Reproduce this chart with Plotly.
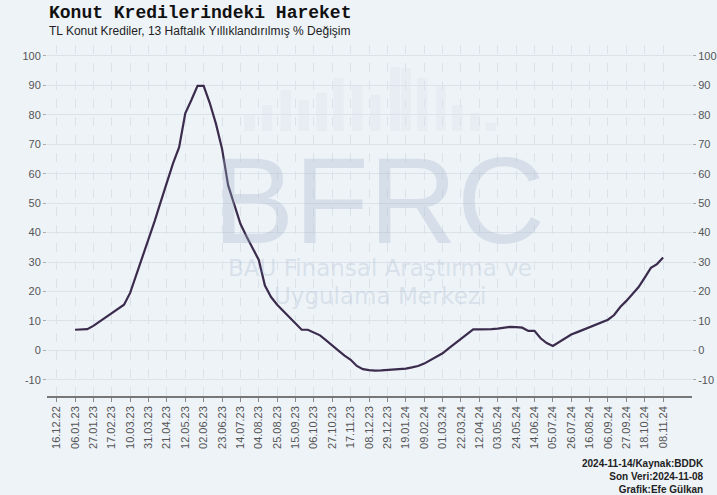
import pandas as pd
import plotly.graph_objects as go

# Weekly dates (x axis spans 16.12.22 .. 08.11.24, data starts 06.01.23)
start_date = "2023-01-06"
values = [
    7.0, 7.0, 7.2, 8.3, 9.8, 11.0, 12.8, 14.0, 15.5, 19.5,
    25.5, 31.4, 37.3, 43.9, 50.5, 57.0, 63.5, 69.0, 80.5, 85.0,
    89.8, 89.8, 84.0, 77.0, 68.5, 56.0, 49.5, 43.0, 38.7, 34.8,
    30.7, 22.0, 18.1, 15.5, 13.4, 11.3, 9.4, 7.0, 7.0, 6.1,
    5.1, 3.4, 1.5, -0.1, -1.8, -3.2, -5.3, -6.4, -6.7, -6.9,
    -6.8, -6.7, -6.6, -6.5, -6.2, -5.8, -5.3, -4.5, -3.4, -2.3,
    -1.0, 0.7, 2.3, 4.0, 5.6, 7.1, 7.1, 7.1, 7.2, 7.4,
    7.7, 8.0, 7.9, 7.7, 6.6, 6.6, 4.1, 2.5, 1.5, 2.8,
    4.1, 5.4, 6.2, 7.0, 7.8, 8.6, 9.4, 10.4, 12.0, 14.7,
    16.8, 19.3, 21.5, 24.7, 28.0, 29.3, 31.5,
]
dates = pd.date_range(start_date, periods=len(values), freq="7D")

tick_labels = [
    "16.12.22", "06.01.23", "27.01.23", "17.02.23", "10.03.23", "31.03.23",
    "21.04.23", "12.05.23", "02.06.23", "23.06.23", "14.07.23", "04.08.23",
    "25.08.23", "15.09.23", "06.10.23", "27.10.23", "17.11.23", "08.12.23",
    "29.12.23", "19.01.24", "09.02.24", "01.03.24", "22.03.24", "12.04.24",
    "03.05.24", "24.05.24", "14.06.24", "05.07.24", "26.07.24", "16.08.24",
    "06.09.24", "27.09.24", "18.10.24", "08.11.24",
]
tick_vals = [pd.to_datetime(t, format="%d.%m.%y") for t in tick_labels]
y_ticks = list(range(-10, 101, 10))

# Faint watermark logo bars (paper-fraction left, right, top)
logo_bars = [
    (0.306, 0.322, 0.801), (0.333, 0.349, 0.829), (0.362, 0.378, 0.872),
    (0.390, 0.406, 0.843), (0.418, 0.434, 0.863), (0.444, 0.460, 0.906),
    (0.473, 0.489, 0.886), (0.501, 0.517, 0.858), (0.532, 0.547, 0.937),
    (0.549, 0.564, 0.934), (0.574, 0.590, 0.906), (0.603, 0.618, 0.886),
    (0.628, 0.644, 0.829), (0.656, 0.671, 0.806), (0.680, 0.696, 0.778),
]

BG = "#eef3f8"
LINE = "#3b2b4c"
TICKC = "#555555"
GRID = "#dbe2ea"

fig = go.Figure()
fig.add_trace(go.Scatter(x=dates, y=values, mode="lines",
                         line=dict(color=LINE, width=2.2), showlegend=False))
fig.add_trace(go.Scatter(x=dates, y=values, mode="lines", yaxis="y2",
                         line=dict(color="rgba(0,0,0,0)", width=0),
                         showlegend=False, hoverinfo="skip"))

yrange = [-15.5, 103.7]
xrange = [pd.Timestamp("2022-12-05"), pd.Timestamp("2024-12-11")]

axis_font = dict(family="Liberation Sans, Arial", size=11, color=TICKC)

fig.update_layout(
    width=717, height=495,
    margin=dict(l=47, r=25, t=45, b=99, autoexpand=False),
    paper_bgcolor=BG, plot_bgcolor=BG,
    xaxis=dict(
        range=xrange, tickmode="array", tickvals=tick_vals, ticktext=tick_labels,
        tickangle=-90, tickfont=axis_font, showgrid=True, gridcolor=GRID,
        griddash="dash", gridwidth=1, ticks="outside", ticklen=4,
        tickcolor="#888888", showline=True, linecolor="#777777", linewidth=1.5,
        zeroline=False, automargin=False,
    ),
    yaxis=dict(
        range=yrange, tickmode="array", tickvals=y_ticks,
        ticktext=[f"{v}" for v in y_ticks], tickfont=axis_font,
        showgrid=True, gridcolor=GRID, gridwidth=1, ticks="outside",
        ticklen=3, tickcolor="#aaaaaa", zeroline=False, showline=False,
        automargin=False,
    ),
    yaxis2=dict(
        range=yrange, tickmode="array", tickvals=y_ticks,
        ticktext=[f"{v}" for v in y_ticks], tickfont=axis_font,
        overlaying="y", side="right", showgrid=False, ticks="outside",
        ticklen=3, tickcolor="#aaaaaa", zeroline=False, showline=False,
        automargin=False,
    ),
)

for x0, x1, top in logo_bars:
    fig.add_shape(type="rect", xref="paper", yref="paper", x0=x0, x1=x1,
                  y0=0.755, y1=top, layer="below", line=dict(width=0),
                  fillcolor="rgba(200,206,214,0.16)")

# Watermark
wm = "rgba(160,180,200,0.30)"
fig.add_annotation(text="BFRC", xref="paper", yref="paper", x=0.515, y=0.555,
                   yanchor="middle", valign="middle", height=100, showarrow=False,
                   font=dict(family="Liberation Sans, Arial", size=122, color=wm))
fig.add_annotation(text="BAU Finansal Araştırma ve", xref="paper", yref="paper",
                   x=0.517, y=0.365, yanchor="middle", showarrow=False,
                   font=dict(family="DejaVu Sans", size=23, color=wm))
fig.add_annotation(text="Uygulama Merkezi", xref="paper", yref="paper",
                   x=0.517, y=0.285, yanchor="middle", showarrow=False,
                   font=dict(family="DejaVu Sans", size=23, color=wm))

# Titles
fig.add_annotation(text="<b>Konut Kredilerindeki Hareket</b>", xref="paper", yref="paper",
                   x=0, y=1, xanchor="left", yanchor="bottom", yshift=20, showarrow=False,
                   font=dict(family="Liberation Mono, Courier New", size=18, color="#111111"))
fig.add_annotation(text="TL Konut Krediler, 13 Haftalık Yıllıklandırılmış % Değişim",
                   xref="paper", yref="paper", x=0, y=1, xanchor="left", yanchor="bottom",
                   yshift=5, showarrow=False,
                   font=dict(family="Liberation Sans, Arial", size=12, color="#222222"))

# Footer
fig.add_annotation(text="<b>2024-11-14/Kaynak:BDDK<br>Son Veri:2024-11-08<br>Grafik:Efe Gülkan</b>",
                   xref="paper", yref="paper", x=1, y=0, xanchor="right", yanchor="top",
                   xshift=14, yshift=-60, align="right", showarrow=False,
                   font=dict(family="Liberation Sans, Arial", size=10, color="#222222"))

fig.write_html("out.html", config={"displayModeBar": False},
               post_script="document.body.style.margin='0';")
